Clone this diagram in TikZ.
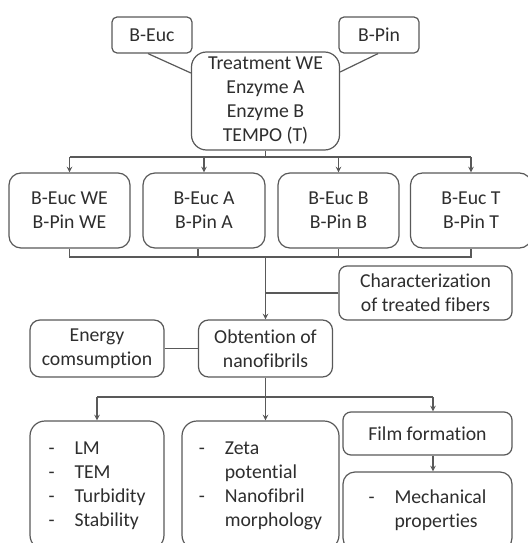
\documentclass[tikz,border=0pt]{standalone}
\usepackage{fontspec}
\setmainfont{Carlito}[Ligatures=NoCommon]
\newlength{\du}
\setlength{\du}{0.75pt}
\definecolor{dialinecolor}{rgb}{0.350000, 0.350000, 0.350000}
\definecolor{diatextcolor}{rgb}{0.180000, 0.180000, 0.180000}
\tikzset{
  diabox/.style={draw=dialinecolor, text=diatextcolor, fill=white, align=center,
    inner sep=0pt, line width=1.2\du, font=\fontsize{14.8pt}{18pt}\selectfont},
  dialine/.style={draw=dialinecolor, line width=1.2\du},
  diaarrow/.style={dialine, -stealth},
}
\newcommand{\listdash}{\makebox[19.5pt][l]{-}}

\begin{document}
\begin{tikzpicture}
\pgftransformxscale{1.000000}
\pgftransformyscale{-1.000000}
\useasboundingbox (0\du,0\du) rectangle (528\du,543\du);
% raw pulps
\node[diabox, rounded corners=5\du, minimum width=80\du, minimum height=36\du] (beuc) at (152\du,35\du){B-Euc};
\node[diabox, rounded corners=5\du, minimum width=80\du, minimum height=36\du] (bpin) at (379\du,35\du){B-Pin};
\node[diabox, rounded corners=15\du, minimum width=148\du, minimum height=98\du] (treat) at (265.5\du,101\du){Treatment WE\\Enzyme A\\Enzyme B\\TEMPO (T)};
\draw[dialine] (beuc.south -| 148\du,0) -- (treat.west |- 0,73\du);
\draw[dialine] (bpin.south -| 378\du,0) -- (treat.east |- 0,72\du);
% treated fibers
\node[diabox, rounded corners=12\du, minimum width=121\du, minimum height=75\du] (weB) at (69.5\du,210.5\du){B-Euc WE\\B-Pin WE};
\node[diabox, rounded corners=12\du, minimum width=122\du, minimum height=75\du] (aB) at (204\du,210.5\du){B-Euc A\\B-Pin A};
\node[diabox, rounded corners=12\du, minimum width=121\du, minimum height=75\du] (bB) at (338.5\du,210.5\du){B-Euc B\\B-Pin B};
\node[diabox, rounded corners=12\du, minimum width=121\du, minimum height=75\du] (tB) at (471\du,210.5\du){B-Euc T\\B-Pin T};
\coordinate (split) at (265.5\du,157\du);
\draw[dialine] (treat.south) -- (split);
\draw[dialine] (weB.north |- split) -- (tB.north |- split);
\draw[diaarrow] (weB.north |- split) -- (weB.north);
\draw[diaarrow] (aB.north |- split) -- (aB.north);
\draw[diaarrow] (bB.north |- split) -- (bB.north);
\draw[diaarrow] (tB.north |- split) -- (tB.north);
\coordinate (merge) at (265.5\du,257\du);
\draw[dialine] (weB.south) -- (weB.south |- merge) -- (tB.south |- merge) -- (tB.south);
\draw[dialine] (aB.south -| 198\du,0) -- (merge -| 198\du,0);
\draw[dialine] (bB.south) -- (bB.south |- merge);
% fibrillation
\node[diabox, rounded corners=8\du, minimum width=173\du, minimum height=54\du] (char) at (425.5\du,293\du){Characterization\\of treated fibers};
\node[diabox, rounded corners=10\du, minimum width=134\du, minimum height=57\du] (obt) at (265.5\du,348.5\du){Obtention of\\nanofibrils};
\node[diabox, rounded corners=10\du, minimum width=134\du, minimum height=57\du] (energy) at (97\du,348.5\du){Energy\\comsumption};
\draw[diaarrow] (merge) -- (obt.north);
\draw[dialine] (char.west) -- (char.west -| obt.north);
\draw[dialine] (energy.east) -- (obt.west);
% characterization of nanofibrils
\node[diabox, rounded corners=15\du, minimum width=134\du, minimum height=129\du] (boxL) at (97\du,485.5\du){\begin{tabular}{@{}l@{}}\listdash LM\\\listdash TEM\\\listdash Turbidity\\\listdash Stability\end{tabular}};
\node[diabox, rounded corners=15\du, minimum width=157\du, minimum height=129\du] (boxM) at (260.5\du,485.5\du){\begin{tabular}{@{}l@{}}\listdash Zeta\\\hspace*{19.5pt}potential\\\listdash Nanofibril\\\hspace*{19.5pt}morphology\end{tabular}};
\node[diabox, rounded corners=8\du, minimum width=169\du, minimum height=43\du] (film) at (427.5\du,433.5\du){Film formation};
\node[diabox, rounded corners=12\du, minimum width=169\du, minimum height=78\du] (mech) at (427.5\du,511\du){\begin{tabular}{@{}l@{}}\listdash Mechanical\\\hspace*{19.5pt}properties\end{tabular}};
\coordinate (branch) at (265.5\du,397\du);
\draw[dialine] (obt.south) -- (branch);
\draw[dialine] (boxL.north |- branch) -- (branch -| 433\du,0);
\draw[diaarrow] (boxL.north |- branch) -- (boxL.north);
\draw[diaarrow] (branch) -- (boxM.north -| branch);
\draw[diaarrow] (branch -| 433\du,0) -- (film.north -| 433\du,0);
\draw[diaarrow] (film.south -| 433\du,0) -- (mech.north -| 433\du,0);
\end{tikzpicture}
\end{document}
